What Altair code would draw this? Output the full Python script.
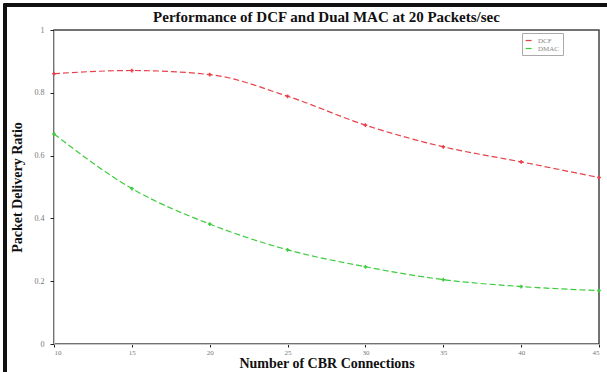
import altair as alt
import pandas as pd

connections = [10, 15, 20, 25, 30, 35, 40, 45]
dcf = [0.861, 0.871, 0.858, 0.789, 0.697, 0.628, 0.580, 0.530]
dmac = [0.669, 0.495, 0.382, 0.300, 0.246, 0.205, 0.183, 0.170]
series_names = ["DCF", "DMAC"]
colors = ["#e8404a", "#3ccc3c"]

rows = []
for name, vals in zip(series_names, [dcf, dmac]):
    for x, v in zip(connections, vals):
        rows.append({"conn": x, "pdr": v, "series": name})
df = pd.DataFrame(rows)

FONT = "Liberation Serif"

base = alt.Chart(df)

lines = base.mark_line(
    interpolate="monotone", strokeWidth=1.2, strokeDash=[6, 3],
    point=alt.OverlayMarkDef(shape="cross", size=14, filled=True)
).encode(
    x=alt.X("conn:Q", scale=alt.Scale(domain=[10, 45], nice=False, zero=False),
            axis=alt.Axis(values=connections, title="Number of CBR Connections",
                          titleFont=FONT, titleFontSize=14, titleFontWeight="bold",
                          titleColor="#111", titleBaseline="top", titleY=12,
                          labelFont=FONT, labelFontSize=7, labelColor="#777",
                          tickColor="#222", tickSize=3, labelPadding=1,
                          domainColor="#c8c8c8", grid=False)),
    y=alt.Y("pdr:Q", scale=alt.Scale(domain=[0, 1], nice=False),
            axis=alt.Axis(values=[0, 0.2, 0.4, 0.6, 0.8, 1], format="~g",
                          title="Packet Delivery Ratio",
                          titleFont=FONT, titleFontSize=14, titleFontWeight="bold",
                          titleColor="#111", titlePadding=10,
                          labelFont=FONT, labelFontSize=8, labelColor="#777",
                          tickColor="#222", tickSize=4, labelPadding=6,
                          domainColor="#c8c8c8", grid=False)),
    color=alt.Color("series:N", scale=alt.Scale(domain=series_names, range=colors),
                    legend=alt.Legend(title=None, orient="none", legendX=468, legendY=3,
                                      labelFont=FONT, labelFontSize=7, labelColor="#888",
                                      symbolType="stroke", symbolSize=60, symbolStrokeWidth=1.2,
                                      strokeColor="#aaa", padding=3, rowPadding=0,
                                      symbolDash=[6, 2]))
)

frame = alt.Chart(df).mark_rect(fill=None, stroke="#111", strokeWidth=2.5).encode(
    x=alt.value(-49), x2=alt.value(620), y=alt.value(-25), y2=alt.value(400)
)

chart = alt.layer(frame, lines).properties(
    width=545, height=314,
    title=alt.TitleParams("Performance of DCF and Dual MAC at 20 Packets/sec",
                          font=FONT, fontSize=15, fontWeight="bold", color="#111",
                          anchor="middle", frame="group", offset=6, dy=27),
    padding={"left": 54, "top": 30, "right": 8, "bottom": 28},
    autosize=alt.AutoSizeParams(type="none"),
    background="white"
).configure_view(stroke="#444", strokeWidth=1.5)

chart.save("out.html", embed_options={"renderer": "svg", "actions": False})
